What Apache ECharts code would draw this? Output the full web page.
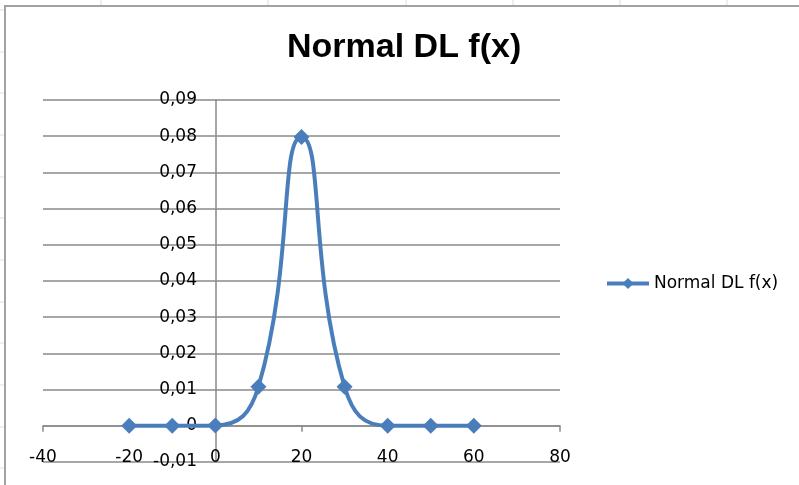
<!DOCTYPE html>
<html>
<head>
<meta charset="utf-8">
<title>Normal DL f(x)</title>
<script src="https://cdn.jsdelivr.net/npm/echarts@6/dist/echarts.min.js"></script>
<style>
  html, body { margin: 0; padding: 0; background: #fff; }
  #chart { width: 799px; height: 485px; }
</style>
</head>
<body>
<div id="chart"></div>
<script>
// values
const xValues = [-20, -10, 0, 10, 20, 30, 40, 50, 60]
const fValues = [0, 0, 0.0001, 0.0108, 0.0798, 0.0108, 0, 0, 0]
const xTicks = [-40, -20, 0, 20, 40, 60, 80]
const yTicks = [-0.01, 0, 0.01, 0.02, 0.03, 0.04, 0.05, 0.06, 0.07, 0.08, 0.09]

const seriesName = 'Normal DL f(x)'
const blue = '#4a7ebb'
const gridGrey = '#8a8a8a'
const sheetGrey = '#dcdcdc'

const gridLeft = 43
const gridBottom = 23

// faint spreadsheet cells behind the chart frame
let sheet = []
;[101, 268, 406, 513, 620, 727].forEach(x => {
  sheet.push({ type: 'line', shape: { x1: x, y1: 0, x2: x, y2: 6 }, style: { stroke: sheetGrey, lineWidth: 1 }, silent: true })
})
;[10, 52, 93, 135, 177, 218, 260, 302, 343, 385, 427, 468].forEach(y => {
  sheet.push({ type: 'line', shape: { x1: 0, y1: y, x2: 5, y2: y }, style: { stroke: sheetGrey, lineWidth: 1 }, silent: true })
})
// chart frame
sheet.push({ type: 'polyline', shape: { points: [[5, 485], [5, 6], [799, 6]] }, style: { stroke: '#a2a2a2', lineWidth: 2, fill: null }, silent: true })

let chart = echarts.init(document.getElementById('chart'))
let option = {
  backgroundColor: '#fff',
  animation: false,
  graphic: sheet,
  title: {
    text: seriesName,
    left: 287,
    top: 31,
    padding: 0,
    textStyle: {
      fontFamily: 'Liberation Sans',
      fontWeight: 'bold',
      fontSize: 34,
      color: '#000'
    }
  },
  legend: {
    data: [seriesName],
    left: 605,
    top: 275,
    padding: 0,
    itemWidth: 42,
    itemHeight: 14,
    lineStyle: { width: 4 },
    textStyle: {
      fontFamily: 'DejaVu Sans',
      fontSize: 17,
      color: '#000'
    }
  },
  grid: {
    left: gridLeft,
    right: 239,
    top: 100,
    bottom: gridBottom,
    containLabel: false,
    outerBoundsMode: 'none'
  },
  xAxis: {
    type: 'value',
    min: xTicks[0],
    max: xTicks[xTicks.length - 1],
    interval: xTicks[1] - xTicks[0],
    axisLine: { onZero: true, lineStyle: { color: gridGrey, width: 1.5 } },
    axisTick: { show: true, length: 6, lineStyle: { color: gridGrey, width: 1.5 } },
    axisLabel: {
      // labels sit just under the zero line, like the sheet
      margin: -13,
      fontFamily: 'DejaVu Sans',
      fontSize: 17,
      color: '#000'
    },
    splitLine: { show: false }
  },
  yAxis: {
    type: 'value',
    min: yTicks[0],
    max: yTicks[yTicks.length - 1],
    interval: 0.01,
    axisLine: { show: true, onZero: true, lineStyle: { color: gridGrey, width: 1.5 } },
    axisTick: { show: false },
    axisLabel: {
      // right edge of the labels lands left of the x = 0 line
      margin: gridLeft - 197,
      fontFamily: 'DejaVu Sans',
      fontSize: 17,
      color: '#000',
      formatter: v => v === 0 ? '0' : v.toFixed(2).replace('.', ',')
    },
    splitLine: { show: true, lineStyle: { color: gridGrey, width: 1.5 } }
  },
  series: [
    {
      name: seriesName,
      type: 'line',
      smooth: 0.5,
      data: xValues.map((x, i) => [x, fValues[i]]),
      symbol: 'diamond',
      symbolSize: 16,
      lineStyle: { color: blue, width: 4 },
      itemStyle: { color: blue }
    }
  ]
}
chart.setOption(option)
</script>
</body>
</html>
